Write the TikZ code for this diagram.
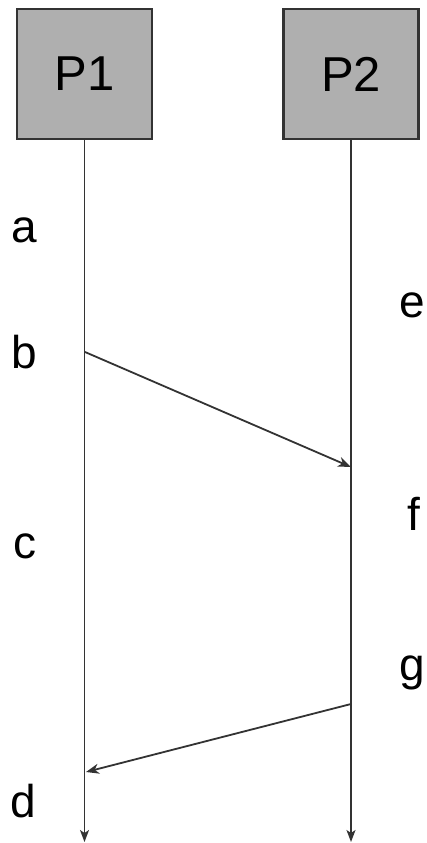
\documentclass[tikz,border=0pt]{standalone}
\usepackage{fontspec}
\setmainfont{Liberation Sans}
\usetikzlibrary{arrows.meta}
\definecolor{boxfill}{HTML}{AFAFAF}
\definecolor{linec}{HTML}{333333}
\begin{document}
\begin{tikzpicture}[x=1pt,y=-1pt,
  procbox/.style={draw=linec,fill=boxfill,line width=2.4pt,minimum width=135pt,minimum height=130pt,inner sep=0pt,font=\fontsize{49}{56}\selectfont},
  lifeline/.style={draw=linec,line width=1.8pt,-{Stealth[length=12pt,width=9pt,inset=3pt]}},
  msg/.style={draw=linec,line width=1.8pt,-{Stealth[length=13pt,width=10pt,inset=4pt]}},
  lbl/.style={anchor=base,inner sep=0pt,font=\fontsize{46}{54}\selectfont}]
\useasboundingbox (0,0) rectangle (426,843);
\node[procbox] (P1) at (84.5,74) {P1};
\node[procbox] (P2) at (351,74) {P2};
\coordinate (E1) at (84.5,842);
\coordinate (E2) at (351,842);
\draw[lifeline] (P1.south) -- (E1);
\draw[lifeline] (P2.south) -- (E2);
\coordinate (b1) at (85,352);
\coordinate (b2) at (351,467);
\coordinate (g1) at (351,704);
\coordinate (g2) at (86,772);
\draw[msg] (b1) -- (b2);
\draw[msg] (g1) -- (g2);
\node[lbl] (la) at (24.5,242) {a};
\node[lbl] (lb) at (24.5,368) {b};
\node[lbl] (lc) at (25,558) {c};
\node[lbl] (ld) at (23.5,817) {d};
\node[lbl] (le) at (412.5,317) {e};
\node[lbl] (lf) at (414,530) {f};
\node[lbl] (lg) at (412.5,680) {g};
\end{tikzpicture}
\end{document}
